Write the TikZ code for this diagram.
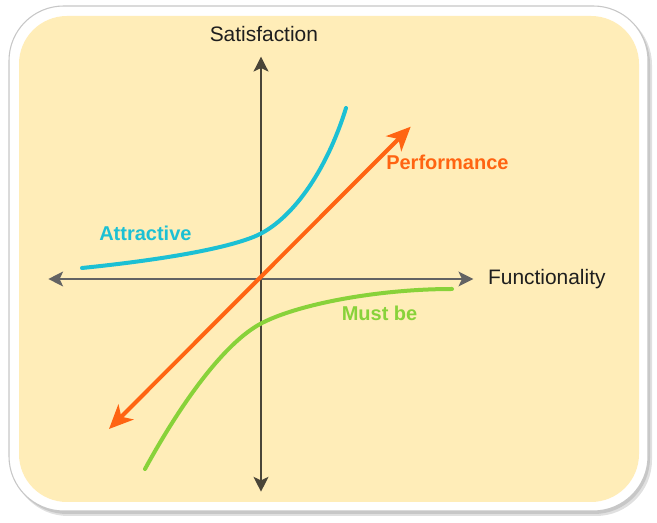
\documentclass[tikz,border=0pt]{standalone}
\usepackage{fontspec}
\setmainfont{Liberation Sans}
\usetikzlibrary{arrows.meta}
\definecolor{bgyellow}{HTML}{FFEDB8}
\definecolor{cyancurve}{HTML}{1CC0D4}
\definecolor{perforange}{HTML}{FF6412}
\definecolor{mustgreen}{HTML}{88D23A}
\definecolor{axisdark}{HTML}{4A4538}
\definecolor{axisgray}{HTML}{636363}
\definecolor{txt}{HTML}{1E1E1E}
\tikzset{
  axistip/.style={Stealth[length=11pt,width=11pt,inset=2.5pt]},
  axisline/.style={line width=2.2pt, color=axisdark, {Stealth[length=11pt,width=11pt,inset=2.5pt]}-{Stealth[length=11pt,width=11pt,inset=2.5pt]}},
  haxisline/.style={line width=1.8pt, color=axisgray, {Stealth[length=11pt,width=11pt,inset=2.5pt]}-{Stealth[length=11pt,width=11pt,inset=2.5pt]}},
  curve/.style={line width=3pt, line cap=round},
  perfline/.style={line width=3pt, color=perforange, {Stealth[length=18pt,width=16pt,inset=5pt]}-{Stealth[length=18pt,width=16pt,inset=5pt]}},
  axislabel/.style={text=txt, font=\fontsize{15.7}{18}\selectfont, inner sep=0pt, anchor=base west},
  curvelabel/.style={font=\bfseries\fontsize{15}{18}\selectfont, inner sep=0pt, anchor=base west}
}
\begin{document}
\begin{tikzpicture}[x=0.75pt,y=-0.75pt]
\useasboundingbox (0,0) rectangle (657,523);
% frame with shadow
\fill[black!12, rounded corners=42pt] (12,9) rectangle (652,516);
\fill[black!22, rounded corners=42pt] (11,8) rectangle (650,514);
\filldraw[fill=white, draw=black!22, line width=0.8pt, rounded corners=41pt] (9,6) rectangle (648,511);
\fill[bgyellow, rounded corners=36pt] (19,16) rectangle (639,502);
% axes
\coordinate (vbot) at (261,491.7);
\coordinate (vtop) at (261,56.7);
\coordinate (hleft) at (48.3,279);
\coordinate (hright) at (473.3,279);
\draw[axisline] (vbot) -- (vtop);
\draw[haxisline] (hleft) -- (hright);
% curves
\draw[curve, color=cyancurve] (82,268) .. controls (180,258) and (240,245) .. (262,233)
  .. controls (300,212) and (330,160) .. (346,108);
\draw[curve, color=mustgreen] (145,469) .. controls (180,405) and (224,342.5) .. (262,323)
  .. controls (300,303.5) and (380,289) .. (452,289);
% performance
\coordinate (plow) at (109,429);
\coordinate (phigh) at (410.7,126.7);
\draw[perfline] (plow) -- (phigh);
% labels
\node[axislabel] (sat) at (209.5,41.7) {Satisfaction};
\node[axislabel] (fun) at (487.8,285) {Functionality};
\node[curvelabel, text=perforange] (perf) at (386,170) {Performance};
\node[curvelabel, text=cyancurve] (attr) at (99,240.7) {Attractive};
\node[curvelabel, text=mustgreen] (must) at (341.5,320.7) {Must be};
\end{tikzpicture}
\end{document}
